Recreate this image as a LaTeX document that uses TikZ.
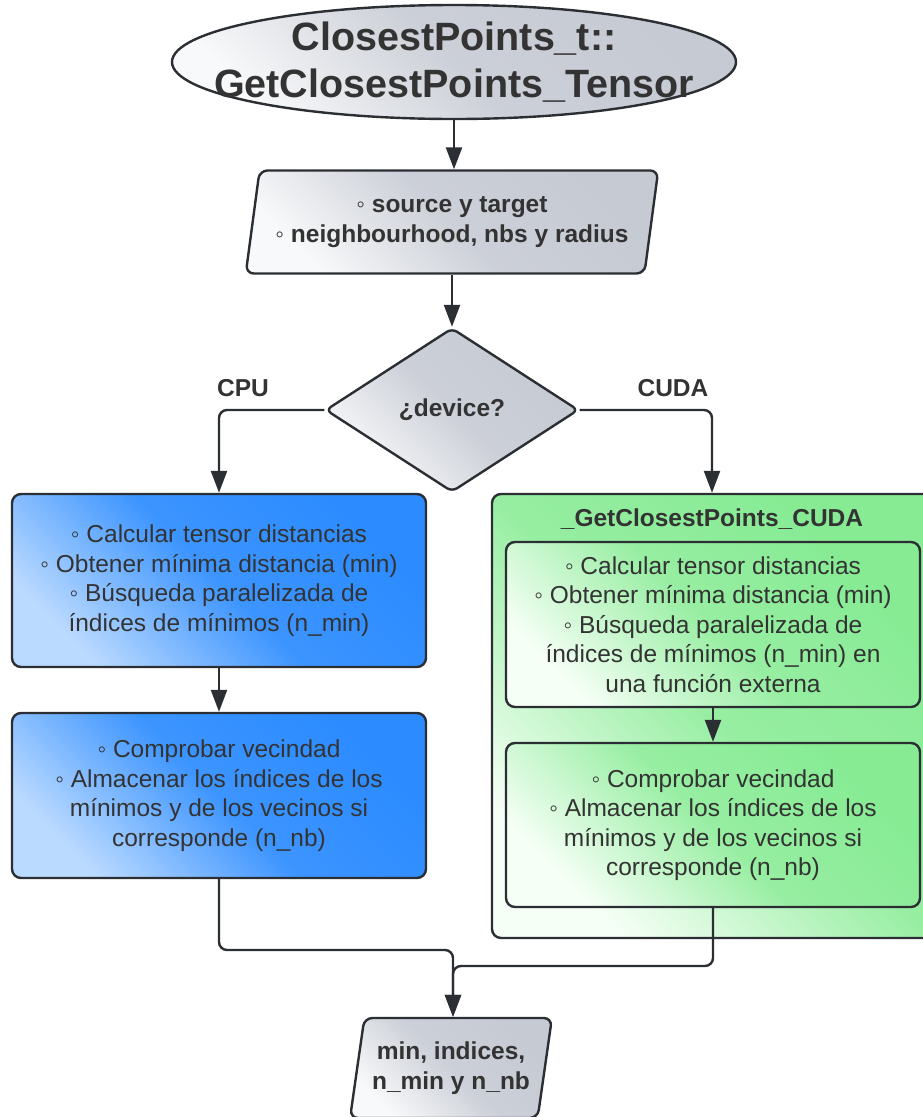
\documentclass[tikz,border=0pt]{standalone}
\usepackage{fontspec}
\setmainfont{Liberation Sans}
\usetikzlibrary{shapes.geometric,arrows.meta,calc}
\definecolor{ink}{HTML}{2B2E33}
\definecolor{txt}{HTML}{333333}
\definecolor{greyD}{HTML}{C6CAD3}
\definecolor{greyL}{HTML}{F8F9FA}
\definecolor{blueD}{HTML}{2B8BFF}
\definecolor{blueL}{HTML}{BBDAFF}
\definecolor{greenD}{HTML}{86EB93}
\definecolor{greenL}{HTML}{F6FFF6}
\newcommand\fsz{\fontsize{24.5}{29.5}\selectfont}
\newcommand\fbig{\fontsize{39.5}{47.5}\selectfont}
\begin{document}
\begin{tikzpicture}[x=1pt,y=-1pt,
  base/.style={draw=ink, line width=2.4pt, text=txt, inner sep=0pt, align=center, font=\fsz},
  greyfill/.style={bottom color=greyL, top color=greyD, middle color=greyD!88!greyL, shading angle=-45},
  bluefill/.style={bottom color=blueL, top color=blueD, middle color=blueD!88!blueL, shading angle=-45},
  greenfill/.style={bottom color=greenL, top color=greenD, middle color=greenD!85!greenL, shading angle=-45},
  para/.style={trapezium, trapezium left angle=76, trapezium right angle=104, trapezium stretches=true, rounded corners=8pt},
  box/.style={rectangle, rounded corners=9pt},
  lbl/.style={text=txt, font=\fsz\bfseries, inner sep=0pt, align=center},
  arr/.style={draw=ink, line width=2.4pt, -{Triangle[length=22pt,width=16pt]}}
]
\useasboundingbox (0,0) rectangle (922,1117);

% title
\node[base, ellipse, minimum width=564, minimum height=114, greyfill] (title) at (454,62) {};
\node[lbl, font=\fbig\bfseries] (titletxt) at (title.center) {ClosestPoints\_t::\\GetClosestPoints\_Tensor};

% input
\node[base, para, minimum width=413, minimum height=103, greyfill, font=\fsz\bfseries] (inp) at (452,222)
  {◦ source y target\\◦ neighbourhood, nbs y radius};

% decision
\node[base, diamond, minimum width=253, minimum height=164, rounded corners=6pt, greyfill, font=\fsz\bfseries] (dev) at (452,410) {¿device?};
\node[lbl] (cpu) at (243,388) {CPU};
\node[lbl] (cuda) at (673,388) {CUDA};

% CPU branch
\node[base, box, minimum width=414, minimum height=173, bluefill] (c1) at (219,580.5)
  {◦ Calcular tensor distancias\\◦ Obtener mínima distancia (min)\\◦ Búsqueda paralelizada de\\índices de mínimos (n\_min)};
\node[base, box, minimum width=414, minimum height=165, bluefill] (c2) at (219,795.5)
  {◦ Comprobar vecindad\\◦ Almacenar los índices de los\\mínimos y de los vecinos si\\corresponde (n\_nb)};

% CUDA branch
\node[base, box, minimum width=440, minimum height=444, greenfill] (cont) at (712,716) {};
\node[lbl] (ctitle) at (712,519) {\_GetClosestPoints\_CUDA};
\node[base, box, minimum width=414, minimum height=165, greenfill] (i1) at (713,624.5)
  {◦ Calcular tensor distancias\\◦ Obtener mínima distancia (min)\\◦ Búsqueda paralelizada de\\índices de mínimos (n\_min) en\\una función externa};
\node[base, box, minimum width=414, minimum height=164, greenfill] (i2) at (713,825)
  {◦ Comprobar vecindad\\◦ Almacenar los índices de los\\mínimos y de los vecinos si\\corresponde (n\_nb)};

% output
\node[base, para, minimum width=202, minimum height=100, greyfill, font=\fsz\bfseries] (out) at (451,1068)
  {min, indices,\\n\_min y n\_nb};

% connectors
\draw[arr] (title.south) -- (title.south |- inp.north);
\draw[arr] (inp.south -| inp.center) -- (dev.north);
\draw[arr, rounded corners=8pt] (dev.west) -| (c1.north);
\draw[arr, rounded corners=8pt] (dev.east) -| (cont.north);
\draw[arr] (c1.south) -- (c2.north);
\draw[arr] (i1.south) -- (i2.north);
\coordinate (m1) at (453,950);
\coordinate (m2) at (453,966);
\draw[arr, rounded corners=8pt] (c2.south) |- (m1) -- (m1 |- out.north);
\draw[arr, rounded corners=8pt] (i2.south) |- (m2) -- (m2 |- out.north);
\end{tikzpicture}
\end{document}
